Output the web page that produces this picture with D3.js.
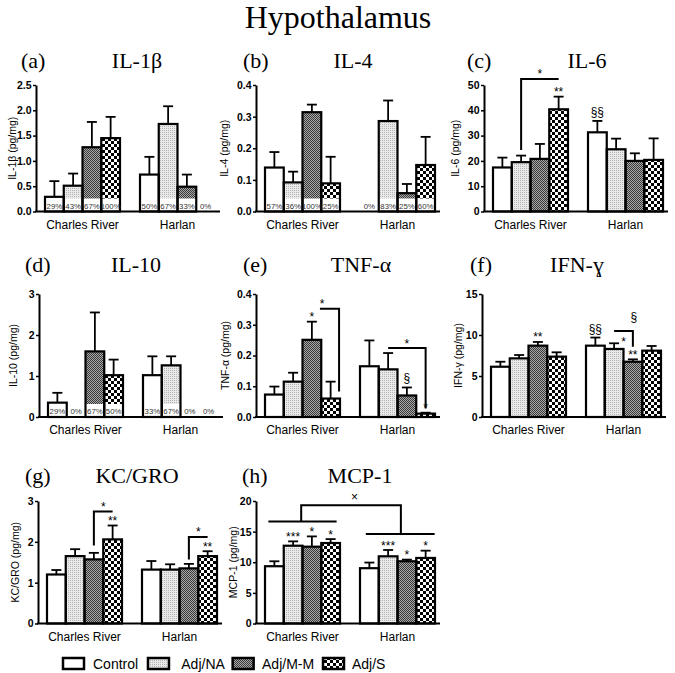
<!DOCTYPE html>
<html><head><meta charset="utf-8">
<script src="https://cdn.jsdelivr.net/npm/d3@7"></script>
<style>body{margin:0;background:#fff}svg{display:block}</style>
</head><body><svg id="c" width="675" height="673"></svg>
<script>
// ---------------- DATA ----------------
const groups = ["Charles River", "Harlan"];
const seriesNames = ["Control", "Adj/NA", "Adj/M-M", "Adj/S"];

// (a) IL-1β  (values: CR x4, Harlan x4)
const il1bMean = [0.29, 0.51, 1.27, 1.45, 0.73, 1.73, 0.49, 0];
const il1bErr  = [0.60, 0.75, 1.77, 1.87, 1.08, 2.08, 0.73, 0];
const il1bPct  = ["29%", "43%", "67%", "100%", "50%", "67%", "33%", "0%"];
const il1bTicks = [0, 0.5, 1.0, 1.5, 2.0, 2.5];

// (b) IL-4
const il4Mean = [0.139, 0.092, 0.314, 0.089, 0, 0.286, 0.058, 0.147];
const il4Err  = [0.188, 0.126, 0.338, 0.173, 0, 0.351, 0.087, 0.236];
const il4Pct  = ["57%", "36%", "100%", "25%", "0%", "83%", "25%", "60%"];
const il4Ticks = [0, 0.1, 0.2, 0.3, 0.4];

// (c) IL-6
const il6Mean = [17.4, 19.5, 20.8, 40.4, 31.3, 24.6, 20.0, 20.4];
const il6Err  = [21.3, 22.1, 26.7, 45.4, 35.8, 28.8, 23.0, 28.9];
const il6Ticks = [0, 10, 20, 30, 40, 50];

// (d) IL-10
const il10Mean = [0.35, 0, 1.60, 1.02, 1.02, 1.26, 0, 0];
const il10Err  = [0.59, 0, 2.55, 1.40, 1.48, 1.48, 0, 0];
const il10Pct  = ["29%", "0%", "67%", "50%", "33%", "67%", "0%", "0%"];
const il10Ticks = [0, 1, 2, 3];

// (e) TNF-α
const tnfMean = [0.073, 0.115, 0.251, 0.060, 0.165, 0.155, 0.070, 0.011];
const tnfErr  = [0.099, 0.144, 0.310, 0.115, 0.249, 0.208, 0.096, 0.014];
const tnfTicks = [0, 0.1, 0.2, 0.3, 0.4];

// (f) IFN-γ
const ifnMean = [6.13, 7.15, 8.70, 7.36, 8.70, 8.30, 6.74, 8.09];
const ifnErr  = [6.74, 7.56, 9.15, 7.89, 9.69, 8.99, 7.03, 8.66];
const ifnTicks = [0, 5, 10, 15];

// (g) KC/GRO
const kcMean = [1.20, 1.65, 1.57, 2.06, 1.32, 1.32, 1.35, 1.65];
const kcErr  = [1.31, 1.82, 1.73, 2.40, 1.53, 1.45, 1.46, 1.77];
const kcTicks = [0, 1, 2, 3];

// (h) MCP-1
const mcpMean = [9.35, 12.70, 12.54, 13.14, 9.03, 10.97, 10.16, 10.70];
const mcpErr  = [10.16, 13.41, 14.22, 13.78, 9.95, 12.00, 10.43, 11.89];
const mcpTicks = [0, 5, 10, 15, 20];

// significance marks above bars: [group, series, text]
const il6Marks = [[0, 3, "**"], [1, 0, "§§"]];
const tnfMarks = [[0, 2, "*"], [1, 2, "§"], [1, 3, "*"]];
const ifnMarks = [[0, 2, "**"], [1, 0, "§§"], [1, 2, "**"]];
const kcMarks  = [[0, 3, "**"], [1, 3, "**"]];
const mcpMarks = [[0, 1, "***"], [0, 2, "*"], [0, 3, "*"], [1, 1, "***"], [1, 2, "*"], [1, 3, "*"]];

// comparison brackets: polylines of [group, slot(series units), value]
const il6Brackets = [[[0, 1.5, 24.3], [0, 1.5, 52.4], [0, 3.5, 52.4]]];
const il6BrLabels = [[0, 2.5, 52.4, "*"]];
const tnfBrackets = [[[0, 2.93, 0.352], [0, 3.95, 0.352], [0, 3.95, 0.083]],
                     [[1, 1.5, 0.224], [1, 3.5, 0.224], [1, 3.5, 0.028]]];
const tnfBrLabels = [[0, 3.05, 0.352, "*"], [1, 2.5, 0.224, "*"]];
const ifnBrackets = [[[1, 1.5, 10.5], [1, 2.5, 10.5], [1, 2.5, 8.58]]];
const ifnBrLabels = [[1, 2.0, 8.6, "*"], [1, 2.55, 11.7, "§"]];
const kcBrackets = [[[0, 2.5, 1.91], [0, 2.5, 2.74], [0, 3.5, 2.74]],
                    [[1, 2.5, 1.57], [1, 2.5, 2.12], [1, 3.5, 2.12]]];
const kcBrLabels = [[0, 3.0, 2.74, "*"], [1, 3.0, 2.12, "*"]];
const mcpBrackets = [[[0, 0.18, 16.65], [0, 3.82, 16.65]],
                     [[0, 1.93, 16.65], [0, 1.93, 19.3], [1, 2.18, 19.3], [1, 2.18, 14.6]],
                     [[1, 0.31, 14.6], [1, 3.98, 14.6]]];
const mcpBrLabels = [[0, 4.78, 19.84, "×"]];

// ---------------- LAYOUT ----------------
const rowsL = [
  {y0: 211.5, yTop: 85, titleY: 68},
  {y0: 417, yTop: 294, titleY: 272},
  {y0: 623.5, yTop: 501, titleY: 483}
];
const f1 = d3.format(".1f"), f0 = d3.format("d");
const panels = [
  {tag: "(a)", title: "IL-1β", ylab: "IL-1β (pg/mg)", mean: il1bMean, err: il1bErr, pct: il1bPct, ticks: il1bTicks, fmt: f1, ax: 36, row: 0, labOff: 24, tagX: 21, titleX: 137},
  {tag: "(b)", title: "IL-4", ylab: "IL-4 (pg/mg)", mean: il4Mean, err: il4Err, pct: il4Pct, ticks: il4Ticks, fmt: f1, ax: 256, row: 0, labOff: 32, tagX: 243, titleX: 353},
  {tag: "(c)", title: "IL-6", ylab: "IL-6 (pg/mg)", mean: il6Mean, err: il6Err, ticks: il6Ticks, fmt: f0, ax: 484, row: 0, labOff: 29, tagX: 467, titleX: 587, marks: il6Marks, br: il6Brackets, brl: il6BrLabels},
  {tag: "(d)", title: "IL-10", ylab: "IL-10 (pg/mg)", mean: il10Mean, err: il10Err, pct: il10Pct, ticks: il10Ticks, fmt: f0, ax: 39, row: 1, labOff: 26, tagX: 25, titleX: 136},
  {tag: "(e)", title: "TNF-α", ylab: "TNF-α (pg/mg)", mean: tnfMean, err: tnfErr, ticks: tnfTicks, fmt: f1, ax: 256, row: 1, labOff: 31, tagX: 243, titleX: 361, marks: tnfMarks, br: tnfBrackets, brl: tnfBrLabels},
  {tag: "(f)", title: "IFN-ɣ", ylab: "IFN-γ (pg/mg)", mean: ifnMean, err: ifnErr, ticks: ifnTicks, fmt: f0, ax: 482, row: 1, labOff: 24, tagX: 470, titleX: 577, marks: ifnMarks, br: ifnBrackets, brl: ifnBrLabels},
  {tag: "(g)", title: "KC/GRO", ylab: "KC/GRO (pg/mg)", mean: kcMean, err: kcErr, ticks: kcTicks, fmt: f0, ax: 38, row: 2, labOff: 23, tagX: 25, titleX: 137, marks: kcMarks, br: kcBrackets, brl: kcBrLabels},
  {tag: "(h)", title: "MCP-1", ylab: "MCP-1 (pg/mg)", mean: mcpMean, err: mcpErr, ticks: mcpTicks, fmt: f0, ax: 256, row: 2, labOff: 23, tagX: 242, titleX: 360, marks: mcpMarks, br: mcpBrackets, brl: mcpBrLabels}
];

const SANS = "'Liberation Sans', Arial, Helvetica, sans-serif";
const SERIF = "'Liberation Serif', 'Times New Roman', Times, serif";

const svg = d3.select("#c");
svg.append("rect").attr("width", 675).attr("height", 673).attr("fill", "#fff");
const defs = svg.append("defs");
{
  const p1 = defs.append("pattern").attr("id", "pNA").attr("width", 2).attr("height", 2).attr("patternUnits", "userSpaceOnUse");
  p1.append("rect").attr("width", 2).attr("height", 2).attr("fill", "#e9e9e9");
  p1.append("rect").attr("width", 1).attr("height", 1).attr("fill", "#b4b4b4");
  const p2 = defs.append("pattern").attr("id", "pMM").attr("width", 2).attr("height", 2).attr("patternUnits", "userSpaceOnUse");
  p2.append("rect").attr("width", 2).attr("height", 2).attr("fill", "#a8a8a8");
  p2.append("rect").attr("width", 1).attr("height", 1).attr("fill", "#3a3a3a");
  p2.append("rect").attr("x", 1).attr("y", 1).attr("width", 1).attr("height", 1).attr("fill", "#3a3a3a");
  const p3 = defs.append("pattern").attr("id", "pS").attr("width", 6).attr("height", 6).attr("patternUnits", "userSpaceOnUse");
  p3.append("rect").attr("width", 6).attr("height", 6).attr("fill", "#fff");
  p3.append("rect").attr("width", 3).attr("height", 3).attr("fill", "#000");
  p3.append("rect").attr("x", 3).attr("y", 3).attr("width", 3).attr("height", 3).attr("fill", "#000");
}
const fills = ["#fff", "url(#pNA)", "url(#pMM)", "url(#pS)"];

// main title
svg.append("text").attr("x", 338).attr("y", 28).attr("text-anchor", "middle")
  .style("font-family", SERIF).attr("font-size", 32).text("Hypothalamus");

function drawPanel(P) {
  const R = rowsL[P.row];
  const y = d3.scaleLinear().domain([0, d3.max(P.ticks)]).range([R.y0, R.yTop]);
  const gx = d3.scaleBand().domain(groups).range([P.ax + 9, P.ax + 179]).paddingInner(20 / 95).paddingOuter(0);
  const sx = d3.scaleBand().domain(seriesNames).range([0, gx.bandwidth()]);
  const slotX = (g, s) => gx(groups[g]) + s * sx.step();
  const G = svg.append("g");

  const data = P.mean.map((v, i) => ({v, e: P.err[i], pct: P.pct ? P.pct[i] : null, g: Math.floor(i / 4), s: i % 4}));
  const bx = d => gx(groups[d.g]) + sx(seriesNames[d.s]);
  const bars = data.filter(d => d.v > 0);

  G.selectAll(null).data(bars).join("rect")
    .attr("x", bx).attr("y", d => y(d.v)).attr("width", sx.bandwidth())
    .attr("height", d => R.y0 - y(d.v)).attr("fill", d => fills[d.s]);
  if (P.pct) {
    G.selectAll(null).data(bars).join("rect")
      .attr("x", bx).attr("width", sx.bandwidth())
      .attr("y", d => R.y0 - Math.min(13, R.y0 - y(d.v)))
      .attr("height", d => Math.min(13, R.y0 - y(d.v))).attr("fill", "#fff");
  }
  G.selectAll(null).data(bars).join("rect")
    .attr("x", bx).attr("y", d => y(d.v)).attr("width", sx.bandwidth())
    .attr("height", d => R.y0 - y(d.v)).attr("fill", "none").attr("stroke", "#000").attr("stroke-width", 2.2);
  const eb = bars.filter(d => d.e > d.v);
  G.selectAll(null).data(eb).join("line")
    .attr("x1", d => bx(d) + sx.bandwidth() / 2).attr("x2", d => bx(d) + sx.bandwidth() / 2)
    .attr("y1", d => y(d.v)).attr("y2", d => y(d.e)).attr("stroke", "#000").attr("stroke-width", 1.8);
  G.selectAll(null).data(eb).join("line")
    .attr("x1", d => bx(d) + sx.bandwidth() / 2 - 5).attr("x2", d => bx(d) + sx.bandwidth() / 2 + 5)
    .attr("y1", d => y(d.e)).attr("y2", d => y(d.e)).attr("stroke", "#000").attr("stroke-width", 1.8);
  if (P.pct) {
    G.selectAll(null).data(data).join("text")
      .attr("x", d => bx(d) + sx.bandwidth() / 2).attr("y", R.y0 - 3)
      .attr("text-anchor", "middle").style("font-family", SANS).attr("font-size", 7.8).attr("fill", "#333")
      .text(d => d.pct);
  }

  const axis = d3.axisLeft(y).tickValues(P.ticks).tickFormat(P.fmt).tickSize(3).tickSizeOuter(0).tickPadding(1.5);
  const ga = svg.append("g").attr("transform", `translate(${P.ax},0)`).call(axis);
  ga.select(".domain").attr("stroke-width", 2);
  ga.selectAll(".tick line").attr("stroke-width", 1.5);
  ga.selectAll(".tick text").style("font-family", SANS).attr("font-size", 10.5).attr("font-weight", "bold").attr("fill", "#000");
  svg.append("line").attr("x1", P.ax - 1).attr("x2", P.ax + 184).attr("y1", R.y0).attr("y2", R.y0)
    .attr("stroke", "#000").attr("stroke-width", 2);

  svg.selectAll(null).data(groups).join("text")
    .attr("x", d => gx(d) + gx.bandwidth() / 2).attr("y", R.y0 + 17)
    .attr("text-anchor", "middle").style("font-family", SANS).attr("font-size", 12).text(d => d);

  svg.append("text").attr("transform", `translate(${P.ax - P.labOff},${(R.y0 + R.yTop) / 2}) rotate(-90)`)
    .attr("text-anchor", "middle").attr("dominant-baseline", "central")
    .style("font-family", SANS).attr("font-size", 10.5).text(P.ylab);

  svg.append("text").attr("x", P.tagX).attr("y", R.titleY).style("font-family", SERIF).attr("font-size", 22).text(P.tag);
  svg.append("text").attr("x", P.titleX).attr("y", R.titleY).attr("text-anchor", "middle")
    .style("font-family", SERIF).attr("font-size", 22).text(P.title);

  if (P.marks) {
    svg.selectAll(null).data(P.marks).join("text")
      .attr("x", m => slotX(m[0], m[1] + 0.5))
      .attr("y", m => y(P.err[m[0] * 4 + m[1]]) - (m[2].includes("§") ? 5 : 0.5))
      .attr("text-anchor", "middle").style("font-family", SANS).attr("font-size", 12).text(m => m[2]);
  }
  if (P.br) {
    const lineGen = d3.line().x(p => slotX(p[0], p[1])).y(p => y(p[2]));
    svg.selectAll(null).data(P.br).join("path")
      .attr("d", lineGen).attr("fill", "none").attr("stroke", "#000").attr("stroke-width", 2);
    svg.selectAll(null).data(P.brl).join("text")
      .attr("x", l => slotX(l[0], l[1])).attr("y", l => y(l[2]) - 0.5)
      .attr("text-anchor", "middle").style("font-family", SANS).attr("font-size", 12).text(l => l[3]);
  }
}
panels.forEach(drawPanel);

// legend
const legX = d3.scalePoint().domain(seriesNames).range([63, 323]);
const legBoxDx = [0, -1.7, -3.7, 0];
const legTextDx = [30, 31.6, 25.7, 29];
const leg = svg.append("g");
leg.selectAll(null).data(seriesNames).join("rect")
  .attr("x", (d, i) => legX(d) + legBoxDx[i])
  .attr("y", 658).attr("width", 21).attr("height", 11)
  .attr("fill", (d, i) => fills[i]).attr("stroke", "#000").attr("stroke-width", 2.5);
leg.selectAll(null).data(seriesNames).join("text")
  .attr("x", (d, i) => legX(d) + legTextDx[i])
  .attr("y", 668.5).style("font-family", SANS).attr("font-size", 14).text(d => d);
</script>
</body></html>
